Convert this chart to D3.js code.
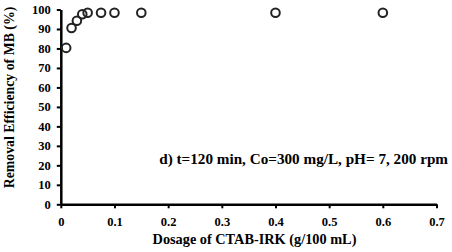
<!DOCTYPE html>
<html><head><meta charset="utf-8">
<script src="https://cdn.jsdelivr.net/npm/d3@7"></script>
<style>body{margin:0;background:#fff}svg{display:block}</style>
</head><body>
<script>
const dosage = [0.01, 0.02, 0.03, 0.04, 0.05, 0.075, 0.1, 0.15, 0.4, 0.6];
const removal = [80.3, 90.5, 94.2, 97.6, 98.3, 98.3, 98.3, 98.3, 98.3, 98.3];
const xTicks = [0, 0.1, 0.2, 0.3, 0.4, 0.5, 0.6, 0.7];
const yTicks = [0, 10, 20, 30, 40, 50, 60, 70, 80, 90, 100];
const xTitle = "Dosage of CTAB-IRK (g/100 mL)";
const yTitle = "Removal Efficiency of MB (%)";
const note = "d) t=120 min, Co=300 mg/L, pH= 7, 200 rpm";

const W = 452, H = 252;
const FONT = "'Liberation Serif','Times New Roman',serif";
const svg = d3.select("body").append("svg").attr("width", W).attr("height", H)
  .style("font-family", FONT).style("font-weight", "bold");
const x = d3.scaleLinear().domain([0, 0.7]).range([60.8, 436.5]);
const y = d3.scaleLinear().domain([0, 100]).range([204.3, 9.5]);

const xa = svg.append("g").attr("transform", `translate(0,${y(0)})`)
  .call(d3.axisBottom(x).tickValues(xTicks).tickFormat(d => d === 0 ? "0" : d3.format(".1f")(d)).tickSize(4).tickSizeOuter(0));
const ya = svg.append("g").attr("transform", `translate(${x(0)},0)`)
  .call(d3.axisLeft(y).tickValues(yTicks).tickSize(4).tickSizeOuter(0));
[xa, ya].forEach(a => {
  a.select(".domain").attr("stroke", "#000").attr("stroke-width", 2.5);
  a.selectAll(".tick line").attr("stroke", "#000").attr("stroke-width", 2);
  a.selectAll(".tick text").attr("fill", "#000").style("font-size", "12.5px").style("font-weight", "bold")
    .style("font-family", FONT);
});
xa.selectAll(".tick text").attr("dy", "0").attr("y", 22);
ya.selectAll(".tick text").attr("x", -10);

svg.append("g").selectAll("circle").data(dosage).join("circle")
  .attr("cx", d => x(d)).attr("cy", (d, i) => y(removal[i])).attr("r", 4.3)
  .attr("fill", "none").attr("stroke", "#222").attr("stroke-width", 2);

svg.append("text").attr("x", 254.5).attr("y", 244).attr("text-anchor", "middle")
  .style("font-size", "14.3px").text(xTitle);
svg.append("text").attr("transform", "translate(13.5,97.5) rotate(-90)").attr("text-anchor", "middle")
  .style("font-size", "13.8px").text(yTitle);
svg.append("text").attr("x", 448).attr("y", 164).attr("text-anchor", "end")
  .style("font-size", "15.2px").text(note);
</script>
</body></html>
